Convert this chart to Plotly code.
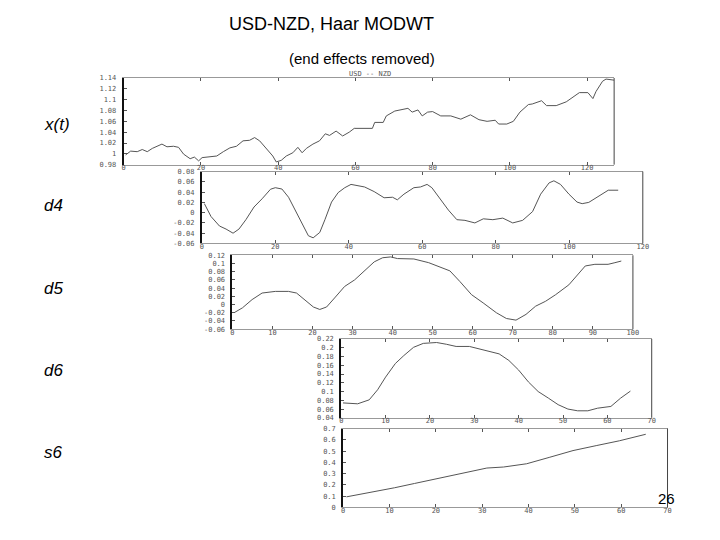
import plotly.graph_objects as go

# ---- data ----
xt_t = [0.5, 1.8, 3.5, 4.8, 6.1, 7.4, 9.9, 11.2, 12.9, 14.2, 15.5, 17.2, 18.3, 19.4, 20.3, 21.5, 22.8, 24.1,
        25.8, 27.5, 29.2, 30.9, 32.6, 33.9, 35.2, 36.9, 38.6, 39.5, 40.8, 42.1, 43.8, 45.1, 46.2, 47.3, 49.0,
        50.7, 52.2, 53.3, 55.0, 56.7, 58.4, 59.7, 61.9, 64.4, 65.0, 67.2, 68.0, 70.2, 73.6, 74.7, 76.2, 77.3,
        78.7, 80.0, 82.1, 84.7, 87.3, 89.8, 92.0, 94.1, 96.2, 97.1, 99.2, 100.9, 102.6, 104.8, 105.8, 108.2,
        109.5, 112.0, 114.6, 116.3, 118.0, 120.2, 121.5, 122.3, 124.0, 124.9, 127.0]
xt_v = [0.998, 1.005, 1.004, 1.008, 1.004, 1.010, 1.018, 1.013, 1.014, 1.012, 0.9995, 0.991, 0.994, 0.987,
        0.993, 0.994, 0.995, 0.996, 1.004, 1.011, 1.014, 1.024, 1.025, 1.030, 1.024, 1.010, 0.996, 0.985,
        0.988, 0.996, 1.002, 1.012, 1.002, 1.010, 1.018, 1.024, 1.037, 1.034, 1.042, 1.033, 1.040, 1.047,
        1.047, 1.047, 1.058, 1.058, 1.070, 1.079, 1.084, 1.077, 1.081, 1.070, 1.077, 1.078, 1.070, 1.070,
        1.064, 1.072, 1.063, 1.060, 1.062, 1.055, 1.055, 1.060, 1.077, 1.091, 1.092, 1.098, 1.089, 1.089,
        1.096, 1.105, 1.113, 1.113, 1.102, 1.115, 1.134, 1.138, 1.136]

d4_t = [0.7, 2.5, 4.8, 6.6, 8.5, 10.1, 12.0, 14.2, 16.4, 18.7, 20.0, 21.8, 23.6, 25.4, 27.2, 29.0, 30.3,
        32.1, 33.5, 35.3, 37.1, 38.9, 40.6, 42.4, 44.3, 46.9, 49.6, 51.9, 53.2, 55.0, 57.7, 59.5, 61.3, 62.6,
        64.9, 67.1, 69.4, 71.6, 74.3, 76.6, 79.2, 81.9, 84.6, 87.3, 90.0, 92.2, 94.5, 95.8, 97.6, 99.9,
        102.1, 103.5, 105.3, 107.5, 110.6, 113.3]
d4_v = [0.0175, -0.0075, -0.026, -0.032, -0.040, -0.032, -0.0137, 0.011, 0.027, 0.0456, 0.0486, 0.046,
        0.030, 0.005, -0.023, -0.045, -0.049, -0.0385, -0.0137, 0.0206, 0.039, 0.0486, 0.055, 0.053, 0.050,
        0.041, 0.029, 0.030, 0.025, 0.036, 0.0486, 0.050, 0.055, 0.0486, 0.027, 0.005, -0.0137, -0.015,
        -0.020, -0.012, -0.0137, -0.0106, -0.020, -0.015, 0.002, 0.036, 0.058, 0.062, 0.055, 0.036, 0.0206,
        0.0175, 0.020, 0.030, 0.0437, 0.0437]

d5_t = [0.4, 2.5, 4.9, 7.4, 10.7, 14.0, 16.0, 18.1, 20.2, 21.8, 23.5, 25.5, 28.0, 30.5, 32.9, 35.4, 37.5,
        39.5, 41.2, 45.3, 49.0, 54.3, 56.8, 59.7, 62.6, 65.9, 68.4, 70.8, 73.3, 75.7, 78.2, 80.7, 84.0, 86.4,
        88.1, 90.5, 93.8, 95.5, 97.1]
d5_v = [-0.020, -0.008, 0.012, 0.028, 0.032, 0.032, 0.028, 0.012, -0.006, -0.012, -0.006, 0.016, 0.044,
        0.060, 0.082, 0.104, 0.114, 0.116, 0.112, 0.111, 0.102, 0.082, 0.056, 0.024, 0.004, -0.020, -0.034,
        -0.038, -0.024, -0.004, 0.008, 0.024, 0.048, 0.076, 0.094, 0.098, 0.098, 0.102, 0.106]

d6_t = [0.4, 3.7, 6.3, 8.2, 10.0, 12.2, 14.1, 16.3, 18.5, 21.5, 23.7, 25.9, 28.9, 31.1, 33.3, 35.6, 37.8,
        40.0, 42.2, 44.4, 46.7, 48.9, 51.1, 53.3, 55.6, 57.8, 60.8, 63.0, 65.2]
d6_v = [0.074, 0.072, 0.081, 0.104, 0.133, 0.164, 0.182, 0.201, 0.210, 0.212, 0.208, 0.203, 0.203, 0.197,
        0.192, 0.186, 0.171, 0.149, 0.122, 0.100, 0.085, 0.070, 0.060, 0.056, 0.056, 0.062, 0.066, 0.085,
        0.101]

s6_t = [0.7, 6.8, 11.1, 15.4, 19.6, 23.9, 28.2, 31.0, 34.6, 39.6, 44.6, 49.6, 54.6, 59.6, 65.3]
s6_v = [0.094, 0.140, 0.175, 0.213, 0.251, 0.286, 0.330, 0.350, 0.359, 0.388, 0.446, 0.505, 0.549, 0.592,
        0.650]

xt_yticks = [0.98, 1, 1.02, 1.04, 1.06, 1.08, 1.1, 1.12, 1.14]
d4_yticks = [-0.06, -0.04, -0.02, 0, 0.02, 0.04, 0.06, 0.08]
d5_yticks = [-0.06, -0.04, -0.02, 0, 0.02, 0.04, 0.06, 0.08, 0.1, 0.12]
d6_yticks = [0.04, 0.06, 0.08, 0.1, 0.12, 0.14, 0.16, 0.18, 0.2, 0.22]
s6_yticks = [0, 0.1, 0.2, 0.3, 0.4, 0.5, 0.6, 0.7]

row_labels = ["x(t)", "d4", "d5", "d6", "s6"]

# page has an 8px body margin: size the figure to fit and map screen pixels to paper coords
OFF = 8
W, H = 720 - OFF, 540 - OFF


def px(x):
    return (x - OFF) / W


def py(y):
    return 1 - (y - OFF) / H


panels = [
    # (t, v, xrange, xdtick, yrange, yticks, box px [l, r, top, bottom])
    (xt_t, xt_v, [0, 127], 20, [0.98, 1.14], xt_yticks, [123, 619, 75, 163]),
    (d4_t, d4_v, [0, 120], 20, [-0.06, 0.08], d4_yticks, [202, 648, 170, 243]),
    (d5_t, d5_v, [0, 100], 10, [-0.06, 0.12], d5_yticks, [233, 638, 255, 330]),
    (d6_t, d6_v, [0, 70], 10, [0.04, 0.22], d6_yticks, [343, 657, 340, 420]),
    (s6_t, s6_v, [0, 70], 10, [0, 0.7], s6_yticks, [345, 673, 431, 511]),
]

tickfont = dict(family="DejaVu Sans Mono", size=7, color="#555555")

fig = go.Figure()
shapes = []
for i, (t, v, xr, xd, yr, yt, box) in enumerate(panels):
    n = "" if i == 0 else str(i + 1)
    fig.add_trace(go.Scatter(x=t, y=v, mode="lines", line=dict(color="#555555", width=1),
                             xaxis="x" + n, yaxis="y" + n, showlegend=False, hoverinfo="skip"))
    l, r, tp, b = box
    fig.layout["xaxis" + n] = dict(
        domain=[px(l), px(r)], range=xr, dtick=xd, tick0=0, anchor="y" + n,
        showgrid=False, zeroline=False, showline=True, linecolor="#999999", linewidth=1,
        mirror="allticks", ticks="inside", ticklen=3, tickcolor="#555555",
        ticklabelstandoff=-4, tickfont=tickfont, fixedrange=True)
    fig.layout["yaxis" + n] = dict(
        domain=[py(b), py(tp)], range=yr, tickvals=yt,
        ticktext=[("%g" % y) for y in yt], anchor="x" + n,
        showgrid=False, zeroline=False, showline=True, linecolor="#111111", linewidth=2,
        ticks="inside", ticklen=3, tickcolor="#555555",
        ticklabelstandoff=4, tickfont=tickfont, fixedrange=True)
    shapes.append(dict(type="line", xref="x%s domain" % n, yref="y%s domain" % n,
                       x0=1, x1=1, y0=0, y1=1, line=dict(color="#444444", width=1)))

ann = [
    dict(text="USD-NZD, Haar MODWT", x=px(333), y=py(20), font=dict(size=18)),
    dict(text="(end effects removed)", x=px(364), y=py(55), font=dict(size=15)),
    dict(text="USD -- NZD", x=px(372), y=py(71), font=dict(size=7, color="#555555",
                                                          family="DejaVu Sans Mono")),
    dict(text="26", x=px(683), y=py(502), xanchor="right", font=dict(size=15)),
]
label_y = [122, 204, 289, 372, 455]
for lab, ly in zip(row_labels, label_y):
    ann.append(dict(text="<i>%s</i>" % lab, x=px(40), y=py(ly), xanchor="left",
                    font=dict(size=17)))
for a in ann:
    a.setdefault("xanchor", "center")
    a.update(xref="paper", yref="paper", yanchor="middle", showarrow=False)
    a["font"].setdefault("color", "black")
    a["font"].setdefault("family", "Arial")

fig.update_layout(width=W, height=H, margin=dict(l=0, r=0, t=0, b=0),
                  paper_bgcolor="white", plot_bgcolor="white",
                  annotations=ann, shapes=shapes)

fig.write_html("out.html")
